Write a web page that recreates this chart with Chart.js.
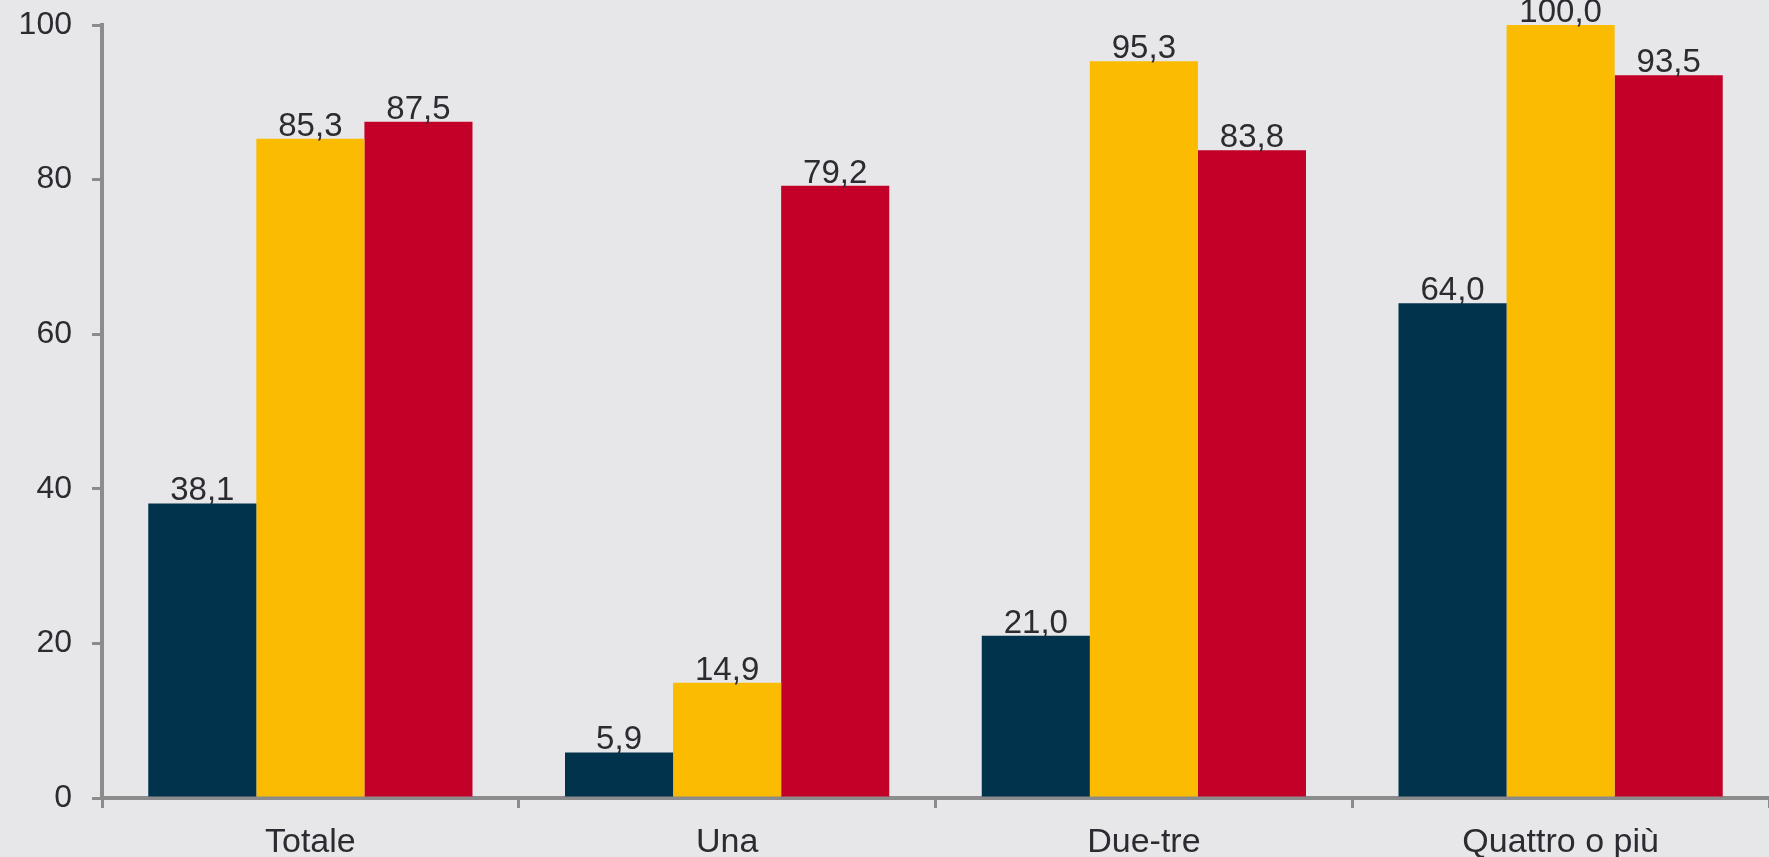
<!DOCTYPE html>
<html>
<head>
<meta charset="utf-8">
<script src="https://cdn.jsdelivr.net/npm/chart.js@4"></script>
<style>
  html, body { margin: 0; padding: 0; background: #e7e7e9; }
  #wrap { width: 1769px; height: 857px; }
</style>
</head>
<body>
<div id="wrap"><canvas id="c"></canvas></div>
<script>
var categories = ['Totale', 'Una', 'Due-tre', 'Quattro o più'];
var serieBlu = [38.1, 5.9, 21.0, 64.0];
var serieGialla = [85.3, 14.9, 95.3, 100.0];
var serieRossa = [87.5, 79.2, 83.8, 93.5];
var yTicks = [0, 20, 40, 60, 80, 100];

var fontFamily = '"Liberation Sans", Arial, sans-serif';
var textColor = '#2b2b31';
var axisColor = '#8c8c8c';

// etichette sopra le barre, con la virgola decimale
var valueLabels = {
    id: 'valueLabels',
    afterDatasetsDraw: function (chart) {
        var ctx = chart.ctx;
        ctx.save();
        ctx.font = '33px ' + fontFamily;
        ctx.fillStyle = textColor;
        ctx.textAlign = 'center';
        ctx.textBaseline = 'alphabetic';
        chart.data.datasets.forEach(function (ds, i) {
            chart.getDatasetMeta(i).data.forEach(function (bar, j) {
                ctx.fillText(ds.data[j].toFixed(1).replace('.', ','), bar.x, bar.y - 3);
            });
        });
        ctx.restore();
    }
};

new Chart(document.getElementById('c'), {
    type: 'bar',
    data: {
        labels: categories,
        datasets: [
            { data: serieBlu, backgroundColor: '#02334c' },
            { data: serieGialla, backgroundColor: '#fbbb00' },
            { data: serieRossa, backgroundColor: '#c30027' }
        ]
    },
    options: {
        responsive: true,
        maintainAspectRatio: false,
        animation: false,
        layout: { padding: { top: 25, right: 0, left: 0, bottom: 0 } },
        categoryPercentage: 0.778,
        barPercentage: 1,
        plugins: {
            legend: { display: false },
            tooltip: { enabled: false }
        },
        scales: {
            x: {
                border: { color: axisColor, width: 4 },
                grid: { offset: true, drawOnChartArea: false, drawTicks: true, tickLength: 10, color: axisColor, lineWidth: 3 },
                ticks: { color: textColor, font: { size: 34, family: fontFamily }, padding: 14 },
                afterFit: function (s) { s.height = 59; s.paddingLeft = 0; s.paddingRight = 0; }
            },
            y: {
                min: 0,
                max: 100,
                afterBuildTicks: function (s) { s.ticks = yTicks.map(function (v) { return { value: v }; }); },
                border: { color: axisColor, width: 4 },
                grid: { drawOnChartArea: false, drawTicks: true, tickLength: 10, color: axisColor, lineWidth: 3 },
                ticks: { color: textColor, font: { size: 32, family: fontFamily }, padding: 20 },
                afterFit: function (s) { s.width = 102; s.paddingTop = 0; s.paddingBottom = 0; }
            }
        }
    },
    plugins: [valueLabels]
});
</script>
</body>
</html>
